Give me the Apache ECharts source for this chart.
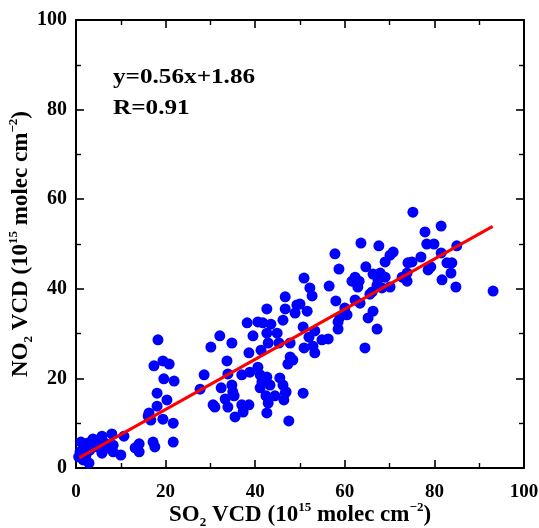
<!DOCTYPE html>
<html><head><meta charset="utf-8">
<script src="https://cdn.jsdelivr.net/npm/echarts@6/dist/echarts.min.js"></script>
<style>html,body{margin:0;padding:0;background:#fff}#c{width:539px;height:528px}</style>
</head><body><div id="c"></div>
<script>
// SO2 VCD (x) and NO2 VCD (y), 10^15 molec cm^-2
const so2 = [1.1,2.7,3.8,5.8,8.0,10.7,2.0,0.9,3.1,4.7,1.6,2.9,7.1,8.3,8.3,10.0,5.8,0.6,2.2,13.2,14.1,14.1,17.2,17.6,21.7,6.5,4.2,
  16.3,16.1,16.7,18.1,20.3,19.4,21.7,18.1,19.6,21.9,17.4,19.4,20.8,18.3,
  32.1,30.1,34.8,33.7,28.6,27.7,33.9,32.4,34.8,35.0,35.3,33.3,33.9,30.6,31.0,35.5,37.0,37.3,38.6,38.2,39.5,38.6,38.8,37.0,40.6,
  46.7,42.6,46.7,49.3,48.9,46.2,41.7,43.5,42.6,44.9,42.9,45.3,47.8,41.3,47.8,48.4,47.3,40.6,41.1,42.6,45.5,41.5,43.3,41.1,46.2,46.9,42.4,44.4,46.4,42.9,42.6,47.5,46.7,
  50.9,52.2,52.7,56.5,58.0,50.0,51.6,60.0,60.5,58.9,58.5,50.7,53.3,52.0,58.5,54.9,56.3,50.9,52.9,53.3,50.7,57.8,58.7,
  63.6,67.6,70.8,70.1,74.1,69.0,64.7,66.3,67.9,69.0,62.3,61.6,63.2,62.9,67.4,67.2,68.3,72.8,73.9,70.1,66.1,65.6,62.3,63.4,66.3,65.2,67.2,64.5,73.9,
  75.2,81.5,77.9,78.3,79.9,85.0,81.5,77.0,75.0,82.8,83.9,78.6,79.2,83.7,81.7,84.8,93.1];
const no2 = [5.8,5.6,6.5,7.1,7.6,7.1,4.5,3.6,4.0,4.7,1.8,1.1,4.5,5.1,3.6,2.9,3.3,2.5,2.8,4.5,5.4,3.6,5.8,4.7,5.8,5.5,5.8,
  12.3,11.6,10.7,13.8,15.2,10.9,10.0,16.7,19.9,19.4,22.8,23.9,23.2,28.6,
  29.5,27.0,27.9,23.9,20.8,17.6,21.0,17.9,18.5,17.0,16.1,15.4,13.6,14.1,13.6,11.4,14.1,12.5,14.1,32.4,29.5,25.7,21.4,20.8,32.6,
  38.2,35.5,35.5,36.4,34.6,33.0,32.4,32.1,30.1,30.1,27.9,27.9,27.9,26.3,24.8,24.1,23.2,22.5,20.8,20.3,20.1,19.2,18.5,17.9,18.5,17.0,16.1,16.1,15.2,14.5,12.3,10.5,16.7,
  42.4,40.2,38.4,40.6,37.3,36.6,35.0,35.7,34.2,33.7,32.6,31.5,30.6,29.2,31.0,28.6,28.8,26.8,27.2,25.7,16.7,47.8,44.4,
  50.2,49.6,48.2,47.5,45.8,46.0,44.9,43.3,43.5,42.6,42.6,41.7,41.7,40.4,42.0,40.8,40.2,42.6,43.5,40.4,39.3,38.8,37.5,36.8,35.0,33.5,31.0,26.8,41.7,
  57.1,54.0,52.7,50.0,50.0,49.6,48.0,47.1,46.0,45.8,45.8,44.2,44.9,43.5,42.0,40.4,39.5];
const fitSlope = 0.56, fitIntercept = 1.86, fitXRange = [0.7, 93];
const axisMin = 0, axisMax = 100, axisInterval = 20;
const eqText = 'y=0.56x+1.86', rText = 'R=0.91';

const serif = 'Liberation Serif, Times New Roman, serif';
const points = so2.map((x, i) => [x, no2[i]]);
const fitLine = fitXRange.map(x => [x, fitSlope * x + fitIntercept]);
const nameRich = {
  b: {fontSize: 23, fontWeight: 'bold', fontFamily: serif, color: '#000', lineHeight: 28},
  s: {fontSize: 13, fontWeight: 'bold', fontFamily: serif, color: '#000', verticalAlign: 'bottom', lineHeight: 28},
  p: {fontSize: 13, fontWeight: 'bold', fontFamily: serif, color: '#000', verticalAlign: 'top', lineHeight: 28}
};
const axisCommon = {
  min: axisMin, max: axisMax, interval: axisInterval,
  axisLine: {show: true, onZero: false, lineStyle: {color: '#000', width: 2}},
  axisTick: {show: true, inside: true, length: 8, lineStyle: {color: '#000', width: 1.6}},
  minorTick: {show: true, splitNumber: 2, length: 5, lineStyle: {color: '#000', width: 1.4}},
  splitLine: {show: false}
};
const labelStyle = {color: '#000', fontSize: 19, fontWeight: 'bold', fontFamily: serif};
const chart = echarts.init(document.getElementById('c'));
chart.setOption({
  animation: false,
  backgroundColor: '#fff',
  grid: {left: 76, right: 15, top: 20, bottom: 60, containLabel: false, outerBoundsMode: 'none'},
  xAxis: [
    Object.assign({}, axisCommon, {type: 'value', position: 'bottom',
      axisLabel: Object.assign({margin: 15}, labelStyle),
      name: '{b|SO}{s|2}{b| VCD (10}{p|15}{b| molec cm}{p|−2}{b|)}',
      nameLocation: 'middle', nameGap: 33, nameMoveOverlap: false, nameTextStyle: {rich: nameRich}}),
    Object.assign({}, axisCommon, {type: 'value', position: 'top', axisLabel: {show: false}})
  ],
  yAxis: [
    Object.assign({}, axisCommon, {type: 'value', position: 'left',
      axisLabel: Object.assign({margin: 9}, labelStyle, {fontSize: 20}),
      name: '{b|NO}{s|2}{b| VCD (10}{p|15}{b| molec cm}{p|−2}{b|)}',
      nameLocation: 'middle', nameGap: 41, nameMoveOverlap: false, nameTextStyle: {rich: nameRich}}),
    Object.assign({}, axisCommon, {type: 'value', position: 'right', axisLabel: {show: false}})
  ],
  graphic: [
    {type: 'text', x: 113, y: 67, scaleX: 1.2, style: {text: eqText, fontSize: 21, fontWeight: 'bold', fontFamily: serif, fill: '#000'}},
    {type: 'text', x: 113, y: 98, scaleX: 1.2, style: {text: rText, fontSize: 21, fontWeight: 'bold', fontFamily: serif, fill: '#000'}}
  ],
  series: [
    {type: 'scatter', data: points, symbol: 'circle', symbolSize: 11, itemStyle: {color: '#0000ff', opacity: 1}, z: 2},
    {type: 'line', data: fitLine, showSymbol: false, symbol: 'none', lineStyle: {color: '#ff0000', width: 3}, z: 3}
  ]
});
</script></body></html>
